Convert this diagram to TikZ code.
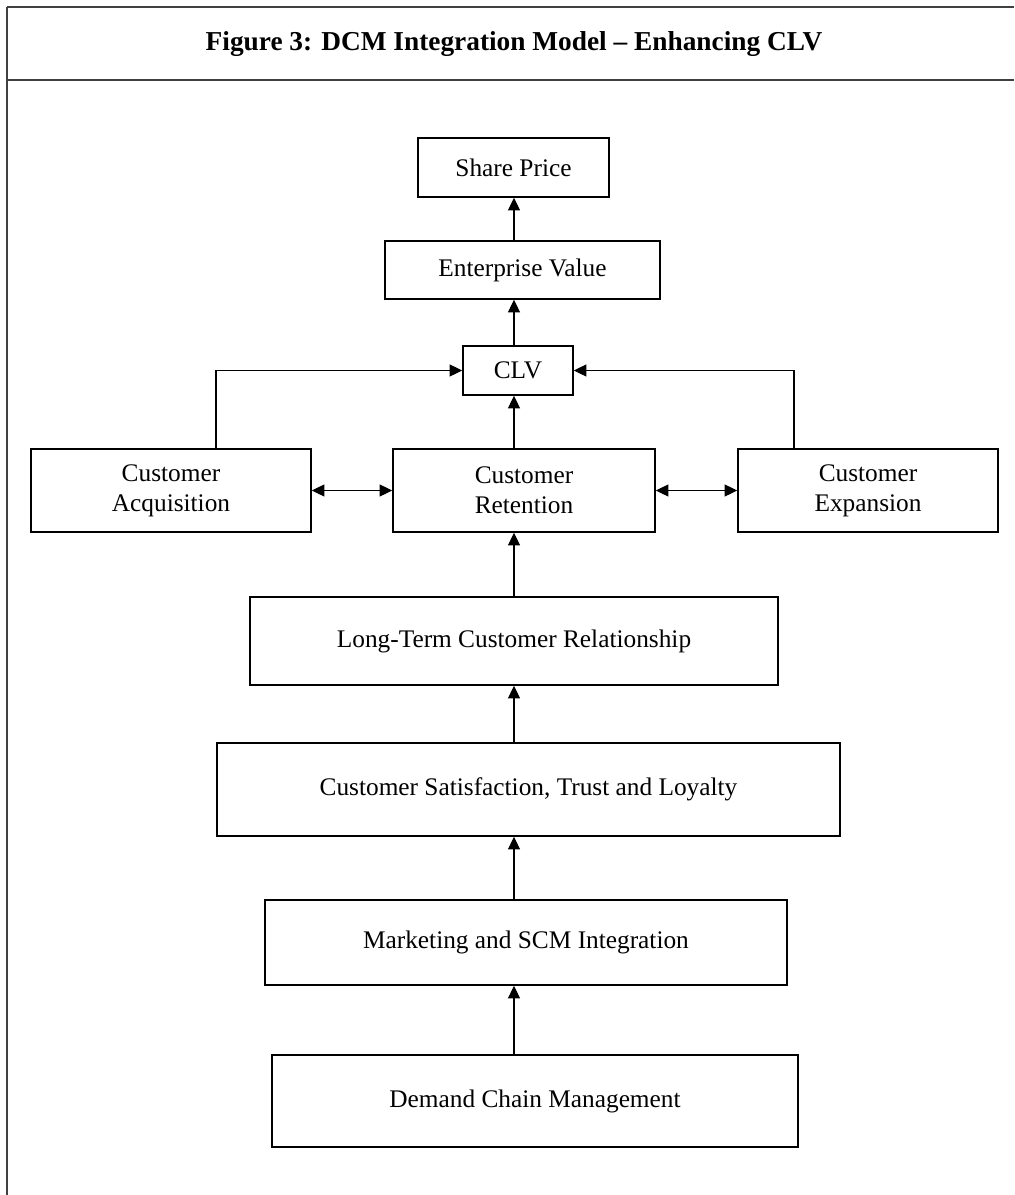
\documentclass[tikz,border=0pt]{standalone}
\usepackage{fontspec}
\setmainfont{Liberation Serif}
\usetikzlibrary{arrows.meta}
\tikzset{
  box/.style={draw, line width=1.1pt, inner sep=0pt, align=center,
    font=\fontsize{19}{22.5}\selectfont},
  tip/.style={},
  arr/.style={line width=0.8pt, -{Triangle[length=9.5pt,width=9pt]}},
  darr/.style={line width=0.8pt, {Triangle[length=9.5pt,width=9pt]}-{Triangle[length=9.5pt,width=9pt]}},
  frame/.style={line width=1pt, draw=black!75},
}
\begin{document}
\begin{tikzpicture}[x=0.75pt, y=-0.75pt]
\useasboundingbox (0,0) rectangle (1014,1195);
% frame
\draw[frame] (7,7) -- (1014,7);
\draw[frame] (7,80) -- (1014,80);
\draw[frame] (7,7) -- (7,1195);
\node[font=\bfseries\fontsize{20.5}{24}\selectfont] (title) at (514,44) {Figure 3: DCM Integration Model -- Enhancing CLV};
% boxes
\node[box, minimum width=191*0.75pt, minimum height=59*0.75pt] (sp) at (513.5,167.5) {Share Price};
\node[box, minimum width=275*0.75pt, minimum height=58*0.75pt] (ev) at (522.5,270) {Enterprise Value};
\node[box, minimum width=110*0.75pt, minimum height=49*0.75pt] (clv) at (518,370.5) {CLV};
\node[box, minimum width=280*0.75pt, minimum height=83*0.75pt] (acq) at (171,490.5) {Customer\\Acquisition};
\node[box, minimum width=262*0.75pt, minimum height=83*0.75pt] (ret) at (524,490.5) {Customer\\Retention};
\node[box, minimum width=260*0.75pt, minimum height=83*0.75pt] (exp) at (868,490.5) {Customer\\Expansion};
\node[box, minimum width=528*0.75pt, minimum height=88*0.75pt] (lt) at (514,641) {Long-Term Customer Relationship};
\node[box, minimum width=623*0.75pt, minimum height=93*0.75pt] (sat) at (528.5,789.5) {Customer Satisfaction, Trust and Loyalty};
\node[box, minimum width=522*0.75pt, minimum height=85*0.75pt] (mkt) at (526,942.5) {Marketing and SCM Integration};
\node[box, minimum width=526*0.75pt, minimum height=92*0.75pt] (dcm) at (535,1101) {Demand Chain Management};
% axis coordinates
\coordinate (ax) at (514,0);
\coordinate (ea) at (216,0);
\coordinate (eb) at (794,0);
% connectors
\draw[arr] (ev.north -| ax) -- (sp.south -| ax);
\draw[arr] (clv.north -| ax) -- (ev.south -| ax);
\draw[arr] (ret.north -| ax) -- (clv.south -| ax);
\draw[arr] (lt.north -| ax) -- (ret.south -| ax);
\draw[arr] (sat.north -| ax) -- (lt.south -| ax);
\draw[arr] (mkt.north -| ax) -- (sat.south -| ax);
\draw[arr] (dcm.north -| ax) -- (mkt.south -| ax);
\draw[arr] (acq.north -| ea) |- (clv.west);
\draw[arr] (exp.north -| eb) |- (clv.east);
\draw[darr] (acq.east) -- (ret.west);
\draw[darr] (ret.east) -- (exp.west);
\end{tikzpicture}
\end{document}
